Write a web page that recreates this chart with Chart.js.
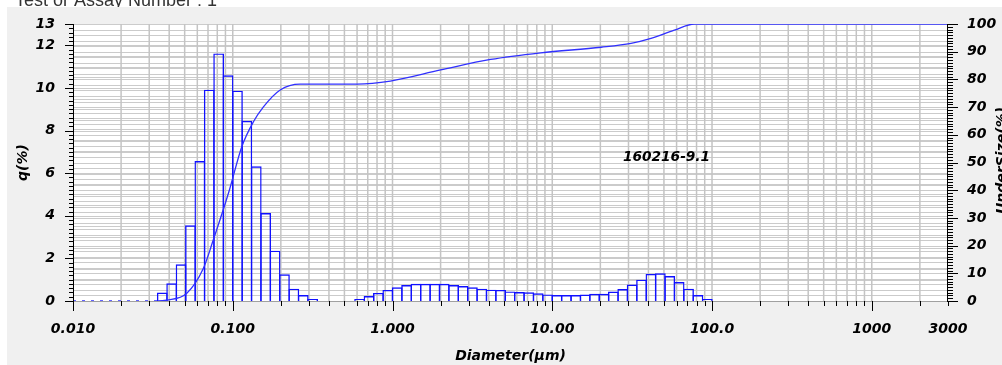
<!DOCTYPE html>
<html><head><meta charset="utf-8">
<script src="https://cdn.jsdelivr.net/npm/chart.js@4/dist/chart.umd.min.js"></script>
<style>html,body{margin:0;padding:0;background:#fff;}canvas{display:block;}</style>
</head><body>
<canvas id="c" width="1002" height="365" style="width:1002px;height:365px"></canvas>
<script>
// ---- text ----
const headerText = 'Test or Assay Number : 1';
const sampleName = '160216-9.1';
const xTitle = 'Diameter(µm)';
const yTitle = 'q(%)';
const y1Title = 'UnderSize(%)';

// ---- tick labels ----
const xTickValues = [0.01, 0.1, 1, 10, 100, 1000, 3000];
const xTickLabels = ['0.010', '0.100', '1.000', '10.00', '100.0', '1000', '3000'];
const qTickValues = [0, 2, 4, 6, 8, 10, 12, 13];
const undersizeTickValues = [0, 10, 20, 30, 40, 50, 60, 70, 80, 90, 100];

// ---- size classes (bin edges, µm) ----
const sizeEdgesUm = [0.033839, 0.038747, 0.044367, 0.050802, 0.058171, 0.066608, 0.076270, 0.087332,
  0.10000, 0.11450, 0.13111, 0.15013, 0.17191, 0.19684, 0.22539, 0.25809, 0.29552, 0.33839, 0.38747, 0.44367, 0.50802, 0.58171, 0.66608, 0.76270, 0.87332,
  1.0000, 1.1450, 1.3111, 1.5013, 1.7191, 1.9684, 2.2539, 2.5809, 2.9552, 3.3839, 3.8747, 4.4367, 5.0802, 5.8171, 6.6608, 7.6270, 8.7332,
  10.000, 11.450, 13.111, 15.013, 17.191, 19.684, 22.539, 25.809, 29.552, 33.839, 38.747, 44.367, 50.802, 58.171, 66.608, 76.270, 87.332,
  100.00];

// ---- frequency q(%) per size class ----
const qPercent = [0.40, 0.83, 1.72, 3.55, 6.57, 9.92, 11.62, 10.59, 9.87, 8.46, 6.32, 4.13, 2.36, 1.25, 0.58, 0.28, 0.09,
  null, null, null, null,
  0.09, 0.23, 0.38, 0.52, 0.64, 0.75, 0.81, 0.81, 0.81, 0.81, 0.75, 0.70, 0.64, 0.58, 0.53, 0.52, 0.45, 0.42, 0.41, 0.36, 0.31,
  0.28, 0.28, 0.28, 0.30, 0.34, 0.34, 0.44, 0.56, 0.77, 1.00, 1.27, 1.30, 1.17, 0.89, 0.58, 0.28, 0.09];

// ---- cumulative undersize (%) ----
const undersizeSizesUm = [0.01, 0.034, 0.0385, 0.0514, 0.0654, 0.0755, 0.0952, 0.1139, 0.1347, 0.1556, 0.1981, 0.2644, 0.471, 0.600, 0.970, 2.00, 4.11, 8.47, 20.2, 31.1, 41.5, 58.1, 77.6, 100, 3000];
const undersizePercent = [0, 0, 0.3, 2.7, 11.7, 22, 40, 55.7, 64.7, 70.1, 76.2, 78.3, 78.3, 78.3, 79.4, 83.4, 87.2, 89.6, 91.6, 93.0, 94.8, 97.8, 100, 100, 100];

const barPoints = qPercent.map((q, i) => ({ x: Math.sqrt(sizeEdgesUm[i] * sizeEdgesUm[i + 1]), y: q }));
const curvePoints = undersizeSizesUm.map((d, i) => ({ x: d, y: undersizePercent[i] }));

const xGridValues = [];
[0.01, 0.1, 1, 10, 100, 1000].forEach(dec => {
  for (let m = 1; m <= 9; m++) { const v = +(m * dec).toPrecision(6); if (v < 3000) xGridValues.push(v); }
});
const isDecade = v => Math.abs(Math.log10(v) - Math.round(Math.log10(v))) < 1e-9;

const FONT = 'DejaVu Sans';
const tickFont = { family: FONT, size: 14, weight: 'bold', style: 'italic' };
const BAR_BORDER = 1.4;

const frame = {
  id: 'frame',
  beforeDraw(chart) {
    const c = chart.ctx, W = chart.width, H = chart.height, a = chart.chartArea;
    c.save();
    c.fillStyle = '#ffffff'; c.fillRect(0, 0, W, H);
    c.font = '18px "Liberation Sans", Arial, sans-serif';
    c.fillStyle = '#333333'; c.textBaseline = 'alphabetic'; c.textAlign = 'left';
    c.fillText(headerText, 15, 6);
    c.fillStyle = '#f0f0f0'; c.fillRect(7, 7, W - 7, H - 7);
    c.fillStyle = '#ffffff'; c.fillRect(a.left, a.top, a.right - a.left, a.bottom - a.top);
    c.restore();
  },
  beforeDatasetsDraw(chart) {
    const c = chart.ctx, a = chart.chartArea, xs = chart.scales.x, ys = chart.scales.y, y1 = chart.scales.y1;
    c.save();
    c.lineWidth = 1; c.strokeStyle = '#cbcbcb';
    c.beginPath();
    for (let i = 0; i <= 26; i++) { const y = Math.round(ys.getPixelForValue(i * 0.5)) + 0.5; c.moveTo(a.left, y); c.lineTo(a.right, y); }
    for (let i = 0; i <= 50; i++) { const y = Math.round(y1.getPixelForValue(i * 2)) + 0.5; c.moveTo(a.left, y); c.lineTo(a.right, y); }
    c.stroke();
    c.strokeStyle = '#c4c4c4'; c.lineWidth = 1.5;
    c.beginPath();
    xGridValues.forEach(v => { const x = xs.getPixelForValue(v); if (x > a.left + 1 && x < a.right - 1) { c.moveTo(x, a.top); c.lineTo(x, a.bottom); } });
    c.stroke();
    c.restore();
  },
  afterDatasetsDraw(chart) {
    const c = chart.ctx, a = chart.chartArea, xs = chart.scales.x, ys = chart.scales.y, y1 = chart.scales.y1;
    c.save();
    c.strokeStyle = '#a0a0a0'; c.lineWidth = 1;
    c.beginPath(); c.moveTo(a.left, a.bottom + 0.5); c.lineTo(a.right, a.bottom + 0.5); c.stroke();
    c.strokeStyle = '#000000'; c.lineWidth = 1;
    c.beginPath();
    c.moveTo(a.left + 0.5, a.top); c.lineTo(a.left + 0.5, a.bottom + 1);
    c.moveTo(a.right - 0.5, a.top); c.lineTo(a.right - 0.5, a.bottom + 1);
    for (let i = 0; i <= 65; i++) {
      const v = i / 5; const y = Math.round(ys.getPixelForValue(v)) + 0.5;
      const len = qTickValues.includes(v) ? 8 : 4;
      c.moveTo(a.left - len, y); c.lineTo(a.left, y);
    }
    for (let i = 0; i <= 100; i++) {
      const y = Math.round(y1.getPixelForValue(i)) + 0.5;
      const len = undersizeTickValues.includes(i) ? 10 : 5;
      c.moveTo(a.right, y); c.lineTo(a.right + len, y);
    }
    [...xGridValues, 3000].forEach(v => {
      const x = Math.round(xs.getPixelForValue(v)) + 0.5;
      const len = (isDecade(v) ? 10 : 5);
      c.moveTo(x, a.bottom); c.lineTo(x, a.bottom + len);
    });
    c.stroke();
    c.restore();
  },
  afterDraw(chart) {
    const c = chart.ctx, a = chart.chartArea;
    c.save();
    c.fillStyle = '#000000';
    c.font = 'italic bold 13.7px "' + FONT + '"';
    c.textAlign = 'left'; c.textBaseline = 'middle';
    c.fillText(sampleName, 623, 157);
    c.font = 'italic bold 14px "' + FONT + '"';
    c.translate(995, (a.top + a.bottom) / 2 - 2);
    c.rotate(-Math.PI / 2);
    c.textAlign = 'center'; c.textBaseline = 'top';
    c.fillText(y1Title, 0, 0);
    c.restore();
  }
};

new Chart(document.getElementById('c'), {
  type: 'bar',
  data: {
    datasets: [
      {
        type: 'line', label: 'UnderSize', yAxisID: 'y1', xAxisID: 'x', order: 0,
        data: curvePoints, borderColor: '#3030ff', borderWidth: 1.3, pointRadius: 0,
        cubicInterpolationMode: 'monotone', fill: false,
        segment: { borderDash: ctx => (ctx.p0.parsed.y === 0 && ctx.p1.parsed.y === 0) ? [3, 6] : undefined }
      },
      {
        type: 'bar', label: 'q', yAxisID: 'y', xAxisID: 'x', order: 1,
        data: barPoints, backgroundColor: 'rgba(0,0,0,0)', borderColor: '#1010ff', borderWidth: BAR_BORDER,
        barPercentage: 1.149, categoryPercentage: 1, inflateAmount: 0
      }
    ]
  },
  options: {
    responsive: false, devicePixelRatio: 1, animation: false,
    layout: { padding: { top: 24, left: 0, right: 0, bottom: 0 } },
    plugins: { legend: { display: false }, tooltip: { enabled: false } },
    scales: {
      x: {
        type: 'logarithmic', position: 'bottom', min: 0.01, max: 3000,
        grid: { display: false }, border: { display: false },
        afterBuildTicks: s => { s.ticks = xTickValues.map(v => ({ value: v })); },
        afterFit: s => { s.height = 64; },
        ticks: {
          autoSkip: false, maxRotation: 0, minRotation: 0, padding: 12, color: '#000', font: tickFont,
          callback: v => { const i = xTickValues.indexOf(v); return i >= 0 ? xTickLabels[i] : ''; }
        },
        title: { display: true, text: xTitle, color: '#000', font: tickFont, padding: { top: 2.5, bottom: 0 } }
      },
      y: {
        type: 'linear', position: 'left', min: 0, max: 13,
        grid: { display: false }, border: { display: false },
        afterBuildTicks: s => { s.ticks = qTickValues.map(v => ({ value: v })); },
        afterFit: s => { s.width = 73; },
        ticks: { autoSkip: false, padding: 10, color: '#000', font: tickFont, callback: v => String(v) },
        title: { display: true, text: yTitle, color: '#000', font: tickFont, padding: { top: 15, bottom: 0 } }
      },
      y1: {
        type: 'linear', position: 'right', min: 0, max: 100,
        grid: { display: false }, border: { display: false },
        afterBuildTicks: s => { s.ticks = undersizeTickValues.map(v => ({ value: v })); },
        afterFit: s => { s.width = 54; },
        ticks: { autoSkip: false, padding: 11, color: '#000', font: tickFont, callback: v => String(v) }
      }
    }
  },
  plugins: [frame]
});
</script>
</body></html>
